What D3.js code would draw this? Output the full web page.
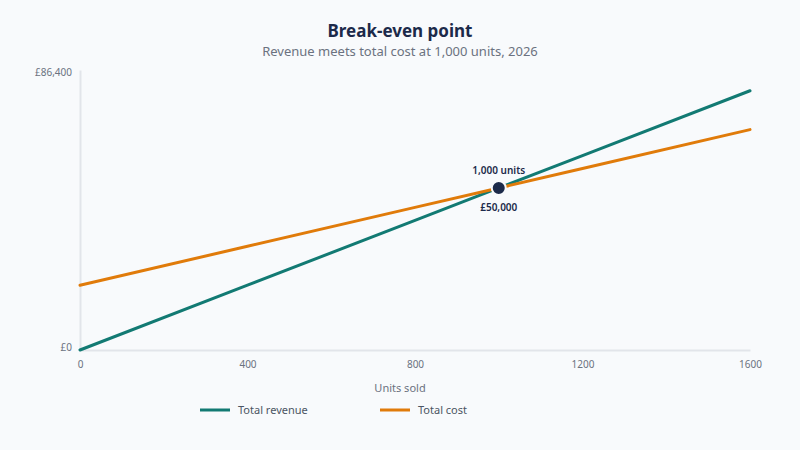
<!DOCTYPE html>
<html><head><meta charset="utf-8">
<script src="https://cdn.jsdelivr.net/npm/d3@7"></script>
<style>body{margin:0;background:#f8fafc;}svg{display:block;font-family:"Noto Sans",sans-serif;}</style>
</head><body><svg id="c" width="800" height="450"></svg>
<script>
const units = [0, 400, 800, 1000, 1200, 1600];
const revenue = [0, 20000, 40000, 50000, 60000, 80000];
const totalCost = [20000, 32000, 44000, 50000, 56000, 68000];
const xTicks = [0, 400, 800, 1200, 1600];
const yTicks = [0, 86400];
const breakEven = {units: 1000, value: 50000};
const seriesNames = ["Total revenue", "Total cost"];
const colors = ["#127a73", "#e07b0a"];

const svg = d3.select("#c");
svg.append("rect").attr("width",800).attr("height",450).attr("fill","#f8fafc");
const m = {l:80, r:750, t:70, b:350};
const x = d3.scaleLinear().domain([0,1600]).range([m.l,m.r]);
const y = d3.scaleLinear().domain([0,86400]).range([m.b,m.t]);

svg.append("text").attr("x",400).attr("y",37).attr("text-anchor","middle")
  .attr("font-size",17).attr("font-weight",700).attr("fill","#1c2a4a").text("Break-even point");
svg.append("text").attr("x",400).attr("y",56).attr("text-anchor","middle")
  .attr("font-size",13).attr("fill","#6b7280").text("Revenue meets total cost at 1,000 units, 2026");

// axes
const xa = svg.append("g").attr("transform",`translate(0,${m.b})`)
  .call(d3.axisBottom(x).tickValues(xTicks).tickSize(0).tickPadding(11).tickFormat(d3.format("d")));
xa.select(".domain").attr("stroke","#e2e5ea").attr("stroke-width",2);
xa.selectAll("text").attr("font-size",10).attr("fill","#6b7280").attr("font-family","Noto Sans");
const ya = svg.append("g").attr("transform",`translate(${m.l},0)`)
  .call(d3.axisLeft(y).tickValues(yTicks).tickSize(0).tickPadding(8).tickFormat(d=>"£"+d3.format(",")(d)));
ya.select(".domain").attr("stroke","#e2e5ea").attr("stroke-width",2);
ya.selectAll("text").attr("font-size",10).attr("fill","#6b7280").attr("font-family","Noto Sans")
  .attr("dy", d => d === 0 ? "0.05em" : "0.52em");

svg.append("text").attr("x",400).attr("y",392).attr("text-anchor","middle")
  .attr("font-size",11).attr("fill","#6b7280").text("Units sold");

const series = [revenue, totalCost];
const line = d3.line().x((d,i)=>x(units[i])).y(d=>y(d));
series.forEach((s,k)=>{
  svg.append("path").datum(s).attr("d",line).attr("fill","none")
    .attr("stroke",colors[k]).attr("stroke-width",3).attr("stroke-linecap","round");
});

const bx = x(breakEven.units), by = y(breakEven.value);
svg.append("circle").attr("cx",bx).attr("cy",by).attr("r",7).attr("fill","#1c2a4a")
  .attr("stroke","#f8fafc").attr("stroke-width",2);
svg.append("text").attr("x",bx).attr("y",by-14).attr("text-anchor","middle")
  .attr("font-size",10).attr("font-weight",600).attr("fill","#1c2a4a").text(d3.format(",")(breakEven.units)+" units");
svg.append("text").attr("x",bx).attr("y",by+23).attr("text-anchor","middle")
  .attr("font-size",10).attr("font-weight",600).attr("fill","#1c2a4a").text("£"+d3.format(",")(breakEven.value));

const legX = [200, 380];
seriesNames.forEach((n,k)=>{
  svg.append("line").attr("x1",legX[k]).attr("x2",legX[k]+30).attr("y1",410).attr("y2",410)
    .attr("stroke",colors[k]).attr("stroke-width",3);
  svg.append("text").attr("x",legX[k]+38).attr("y",414).attr("font-size",11).attr("fill","#4b5563").text(n);
});
</script></body></html>
